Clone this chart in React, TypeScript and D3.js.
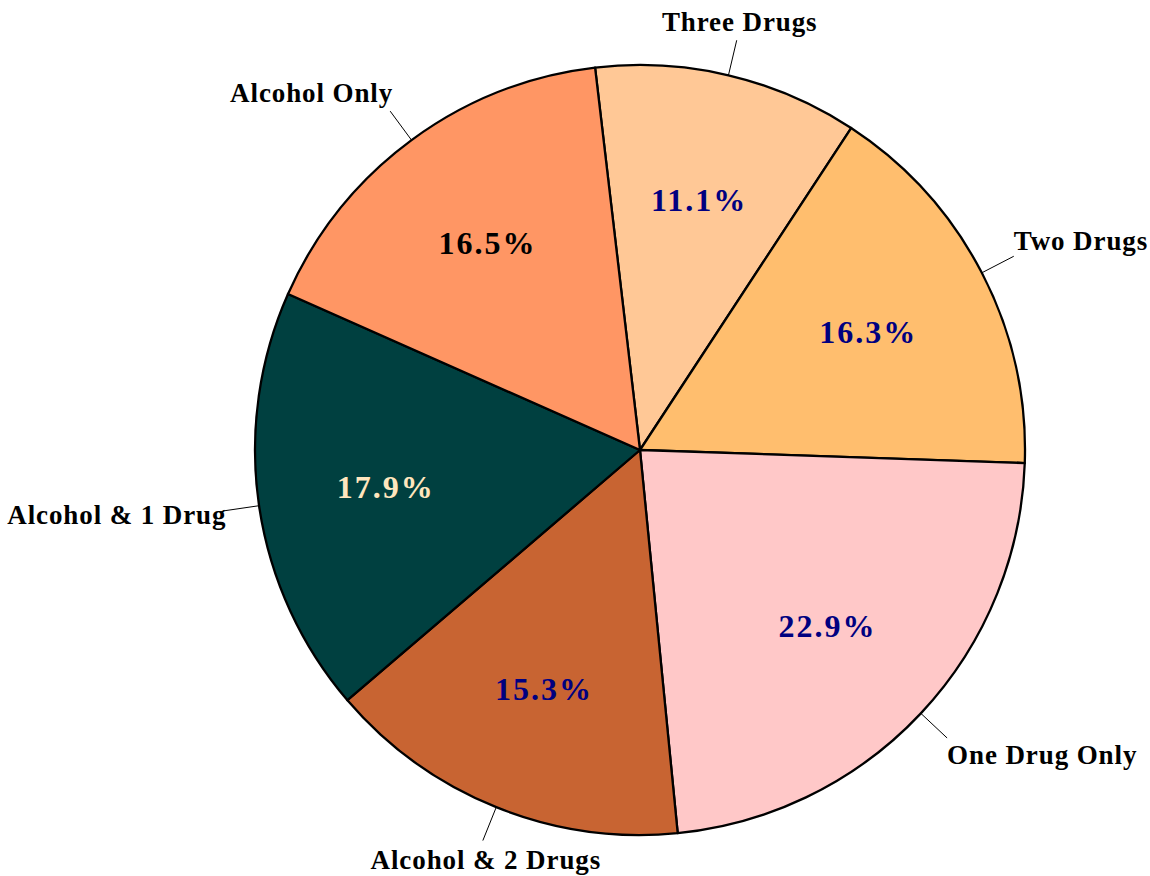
import { useEffect, useRef } from "react";
import * as d3 from "d3";

// slices clockwise, starting just left of 12 o'clock
const categories = ["Three Drugs", "Two Drugs", "One Drug Only", "Alcohol & 2 Drugs", "Alcohol & 1 Drug", "Alcohol Only"];
const shares = [11.1, 16.3, 22.9, 15.3, 17.9, 16.5];
const sliceColors = ["#FFC896", "#FFBE6E", "#FFC8C8", "#C86432", "#004040", "#FF9664"];
const pctColors = ["#000080", "#000080", "#000080", "#000080", "#FFE6BE", "#000000"];

const W = 1150;
const H = 876;

const PieChart = () => {
  const svgRef = useRef<SVGSVGElement>(null);

  useEffect(() => {
    const svg = d3.select(svgRef.current);
    svg.selectAll("*").remove();

    const cx = 640;
    const cy = 450;
    const r = 385;
    const start = (-6.7 * Math.PI) / 180;

    const data = categories.map((c, i) => ({ name: c, value: shares[i], i }));

    const pie = d3
      .pie<any>()
      .sort(null)
      .value((d) => d.value)
      .startAngle(start)
      .endAngle(start + 2 * Math.PI);

    const arcs = pie(data);
    const arc = d3.arc<any>().innerRadius(0).outerRadius(r);
    const g = svg.append("g").attr("transform", `translate(${cx},${cy})`);

    g.selectAll("path.slice")
      .data(arcs)
      .join("path")
      .attr("class", "slice")
      .attr("d", arc)
      .attr("fill", (d) => sliceColors[d.data.i])
      .attr("stroke", "#000")
      .attr("stroke-width", 2.3)
      .attr("stroke-linejoin", "round");

    // percentages inside
    const inner = d3.arc<any>().innerRadius(257).outerRadius(257);
    g.selectAll("text.pct")
      .data(arcs)
      .join("text")
      .attr("class", "pct")
      .attr("transform", (d) => `translate(${inner.centroid(d)})`)
      .attr("text-anchor", "middle")
      .attr("dy", "0.35em")
      .attr("font-family", "'Liberation Serif', 'Times New Roman', serif")
      .attr("font-weight", "bold")
      .attr("font-size", 32)
      .attr("letter-spacing", 2)
      .attr("fill", (d) => pctColors[d.data.i])
      .text((d) => d.data.value.toFixed(1) + "%");

    // leader lines + category labels
    arcs.forEach((d) => {
      const a = (d.startAngle + d.endAngle) / 2;
      const sx = Math.sin(a);
      const sy = -Math.cos(a);
      const x1 = sx * 421;
      const y1 = sy * 421;
      g.append("line")
        .attr("x1", sx * r)
        .attr("y1", sy * r)
        .attr("x2", x1)
        .attr("y2", y1)
        .attr("stroke", "#000")
        .attr("stroke-width", 1);

      let anchor = "middle";
      if (sx > 0.5) anchor = "start";
      else if (sx < -0.5) anchor = "end";
      let dy = sy < 0 ? -9 : 28;
      if (anchor !== "middle") dy = sy < 0 ? (sy < -0.7 ? -9 : -6) : sy > 0.5 ? 26 : 13;

      g.append("text")
        .attr("x", x1 + (anchor === "start" ? 0 : 3))
        .attr("y", y1 + dy)
        .attr("text-anchor", anchor)
        .attr("font-family", "'Liberation Serif', 'Times New Roman', serif")
        .attr("font-weight", "bold")
        .attr("font-size", 27)
        .attr("letter-spacing", 0.9)
        .attr("fill", "#000")
        .text(d.data.name);
    });
  }, []);

  return (
    <svg
      ref={svgRef}
      width={W}
      height={H}
      style={{ position: "absolute", left: 0, top: 0, background: "#fff" }}
    />
  );
};

export default function App() {
  return <PieChart />;
}
